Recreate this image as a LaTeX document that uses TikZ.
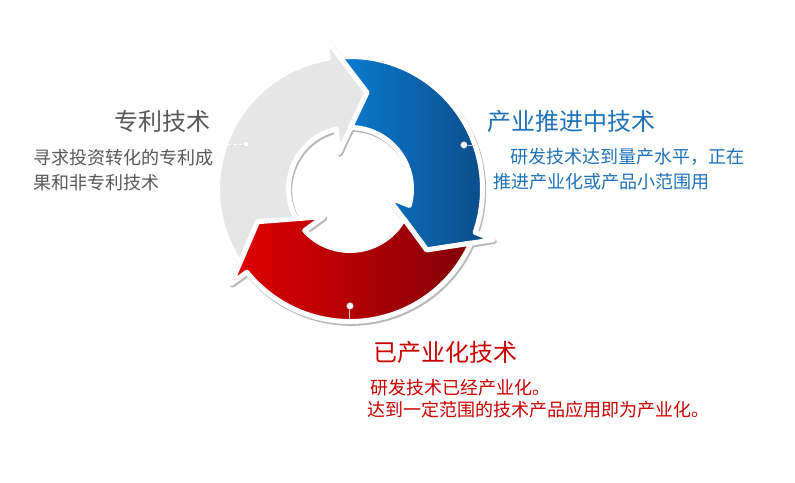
\documentclass[tikz,border=0pt]{standalone}
\usepackage{fontspec}
\newfontfamily\cjk{Noto Sans CJK SC}
\definecolor{graytxt}{HTML}{595959}
\definecolor{bluetxt}{HTML}{1F72B8}
\definecolor{redtxt}{HTML}{C80000}
\definecolor{arrowgray}{HTML}{E6E6E6}
\definecolor{blueL}{HTML}{0A7BD0}
\definecolor{blueR}{HTML}{0B4A85}
\definecolor{redL}{HTML}{E20000}
\definecolor{redR}{HTML}{820008}
\newcommand\cyclearrowpath[3]{%
  \path[#3] ({#2+14.38}:132.5) arc[start angle={#2+14.38}, end angle={#1+19.40}, radius=132.5]
    -- ({#1+19}:152) -- (#1:98) -- ({#1+27}:38) -- ({#1+22.98}:61.5)
    arc[start angle={#1+22.98}, end angle={#2+9.58}, radius=61.5] -- (#2:98) -- cycle;}
\tikzset{
  shadowshape/.style={shift={(1.2,-1.8)}, fill=black!28, draw=black!28, line width=5, line join=round},
  arrowshape/.style={draw=white, line width=5, line join=round},
  title/.style={inner sep=0pt, font=\cjk\fontsize{24}{24}\selectfont},
  desc/.style={inner sep=0pt, font=\cjk\fontsize{18}{18}\selectfont},
  dot/.style={circle, fill=white, draw=black!20, line width=0.5, inner sep=0pt, minimum size=6.5},
  leader/.style={line width=1, dashed, dash pattern=on 3 off 2.5},
}
\begin{document}
\begin{tikzpicture}[x=1pt,y=1pt]
\useasboundingbox (-350,-293) rectangle (445,189);
\fill[white] (-350,-293) rectangle (445,189);
% shadows
\cyclearrowpath{80}{199.5}{shadowshape}
\cyclearrowpath{-38.5}{80}{shadowshape}
\cyclearrowpath{199.5}{321.5}{shadowshape}
% arrows
\cyclearrowpath{80}{199.5}{arrowshape, fill=arrowgray}
\cyclearrowpath{-38.5}{80}{arrowshape, left color=blueL, right color=blueR}
\cyclearrowpath{199.5}{321.5}{arrowshape, left color=redL, right color=redR}
% dots and leaders
\node[dot] (gd) at (-104,45) {};
\coordinate (ge) at (-122,45);
\draw[leader, white] (gd) -- (ge);
\node[dot] (bd) at (114,44) {};
\coordinate (be) at (125,44);
\draw[leader, black!20, solid] (bd) -- (be);
\node[dot] (rd) at (0,-117) {};
\coordinate (re) at (0,-130);
\draw[leader, black!20, solid] (rd) -- (re);
% texts
\node[title, text=graytxt, anchor=east] (t1) at (-139,68) {专利技术};
\node[desc, text=graytxt, anchor=west] (d1a) at (-317,31) {寻求投资转化的专利成};
\node[desc, text=graytxt, anchor=west] (d1b) at (-317,6) {果和非专利技术};
\node[title, text=bluetxt, anchor=west] (t2) at (137,68) {产业推进中技术};
\node[desc, text=bluetxt, anchor=west] (d2a) at (160,32.5) {研发技术达到量产水平，正在};
\node[desc, text=bluetxt, anchor=west] (d2b) at (143,7) {推进产业化或产品小范围用};
\node[title, text=redtxt, anchor=west] (t3) at (23,-163) {已产业化技术};
\node[desc, text=redtxt, anchor=west] (d3a) at (20,-198.5) {研发技术已经产业化。};
\node[desc, text=redtxt, anchor=west] (d3b) at (17,-221) {达到一定范围的技术产品应用即为产业化。};
\end{tikzpicture}
\end{document}
